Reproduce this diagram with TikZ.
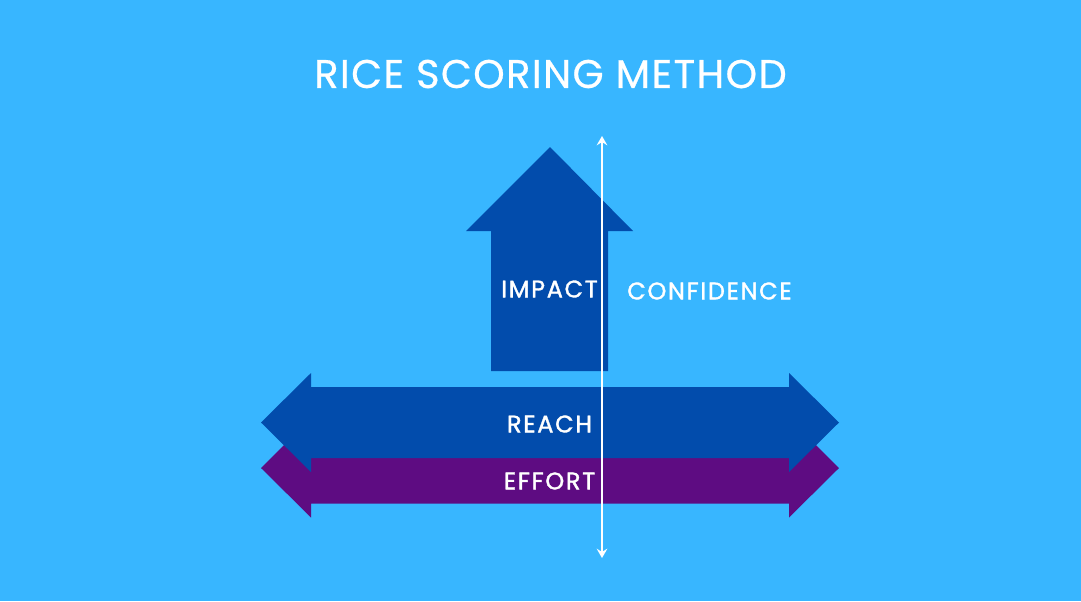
\documentclass[tikz,border=0pt]{standalone}
\usepackage{fontspec}
\setmainfont{Poppins}
\newfontfamily\titlefont{Poppins}[LetterSpace=3.5,FakeBold=0.6]
\newfontfamily\labelfont{Poppins}[LetterSpace=7,FakeBold=1.4]
\usetikzlibrary{arrows.meta}
\definecolor{skyblue}{RGB}{56,182,255}
\definecolor{reachblue}{RGB}{2,76,172}
\definecolor{effortpurple}{RGB}{94,12,130}
\tikzset{
  axis label/.style={text=white, inner sep=0pt, font=\labelfont\fontsize{18}{21}\selectfont},
}
\begin{document}
\begin{tikzpicture}[x=0.75pt,y=0.75pt,yscale=-1,xscale=1]
%Shape: Rectangle [background]
\fill[skyblue] (0,0) rectangle (1081,601);
%Shape: Double Arrow [effort]
\fill[effortpurple] (261,468) -- (311,418.5) -- (311,432.5) -- (789,432.5) -- (789,418.5) -- (839,468) -- (789,517.5) -- (789,503.5) -- (311,503.5) -- (311,517.5) -- cycle ;
%Shape: Double Arrow [reach]
\fill[reachblue] (261,422.5) -- (311,373) -- (311,387) -- (789,387) -- (789,373) -- (839,422.5) -- (789,472) -- (789,458) -- (311,458) -- (311,472) -- cycle ;
%Shape: Up Arrow [impact]
\fill[reachblue] (550,147) -- (633,231) -- (608,231) -- (608,371) -- (491,371) -- (491,231) -- (466,231) -- cycle ;
% Text Node
\node[text=white, inner sep=0pt, font=\titlefont\fontsize{30}{36}\selectfont] (title) at (550.5,74) {RICE SCORING METHOD};
% Text Node
\node[axis label] (impact) at (549.5,289) {IMPACT};
% Text Node
\node[axis label] (confidence) at (709.5,291) {CONFIDENCE};
% Text Node
\node[axis label] (reach) at (549.5,424) {REACH};
% Text Node
\node[axis label] (effort) at (549.5,481) {EFFORT};
%Straight Lines [confidence axis]
\coordinate (conftop) at (602,136);
\coordinate (confbot) at (602,558);
\draw[white, line width=1.5pt, {Stealth[length=7pt,width=8pt,inset=2.5pt]}-{Stealth[length=7pt,width=8pt,inset=2.5pt]}] (confbot) -- (conftop) ;
\end{tikzpicture}
\end{document}
